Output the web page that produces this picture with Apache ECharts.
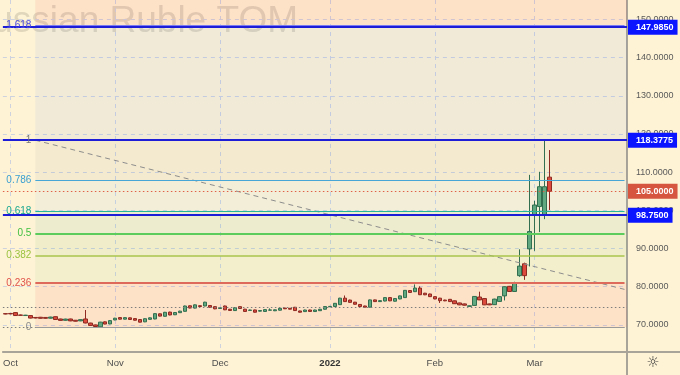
<!DOCTYPE html>
<html>
<head>
<meta charset="utf-8">
<script src="https://cdn.jsdelivr.net/npm/echarts@6/dist/echarts.min.js"></script>
<style>
html,body{margin:0;padding:0;background:#fef3d5;}
#c{width:680px;height:375px;}
</style>
</head>
<body>
<div id="c"></div>
<script>
// ---- categories (trading days) ----
const dates = [
 '2021-09-30',
 '2021-10-01','2021-10-04','2021-10-05','2021-10-06','2021-10-07','2021-10-08','2021-10-11','2021-10-12','2021-10-13','2021-10-14',
 '2021-10-15','2021-10-18','2021-10-19','2021-10-20','2021-10-21','2021-10-22','2021-10-25','2021-10-26','2021-10-27','2021-10-28','2021-10-29',
 '2021-11-01','2021-11-02','2021-11-03','2021-11-05','2021-11-08','2021-11-09','2021-11-10','2021-11-11','2021-11-12','2021-11-15',
 '2021-11-16','2021-11-17','2021-11-18','2021-11-19','2021-11-22','2021-11-23','2021-11-24','2021-11-25','2021-11-26','2021-11-29','2021-11-30',
 '2021-12-01','2021-12-02','2021-12-03','2021-12-06','2021-12-07','2021-12-08','2021-12-09','2021-12-10','2021-12-13','2021-12-14','2021-12-15',
 '2021-12-16','2021-12-17','2021-12-20','2021-12-21','2021-12-22','2021-12-23','2021-12-24','2021-12-27','2021-12-28','2021-12-29','2021-12-30',
 '2022-01-03','2022-01-04','2022-01-05','2022-01-06','2022-01-07','2022-01-10','2022-01-11','2022-01-12','2022-01-13','2022-01-14','2022-01-17',
 '2022-01-18','2022-01-19','2022-01-20','2022-01-21','2022-01-24','2022-01-25','2022-01-26','2022-01-27','2022-01-28','2022-01-31',
 '2022-02-01','2022-02-02','2022-02-03','2022-02-04','2022-02-07','2022-02-08','2022-02-09','2022-02-10','2022-02-11','2022-02-14',
 '2022-02-15','2022-02-16','2022-02-17','2022-02-18','2022-02-21','2022-02-22','2022-02-23','2022-02-24','2022-02-25','2022-02-28',
 '2022-03-01','2022-03-02','2022-03-03','2022-03-04','2022-03-07','2022-03-08','2022-03-09','2022-03-10','2022-03-11','2022-03-14',
 '2022-03-15','2022-03-16','2022-03-17','2022-03-18','2022-03-21','2022-03-22','2022-03-23','2022-03-24','2022-03-25'
];

// ---- OHLC values ----
const opens = [
 72.95,73.00,73.22,72.60,72.45,72.44,71.95,72.00,71.95,71.75,
 72.15,71.55,71.20,71.55,71.22,71.05,71.55,70.48,70.00,69.50,
 70.80,70.25,71.30,71.92,71.50,71.85,71.65,71.40,70.80,71.45,
 71.55,72.90,72.25,73.35,72.65,73.20,73.55,75.00,74.40,75.02,
 74.95,75.08,74.78,74.30,74.95,74.10,73.75,74.78,74.12,73.80,
 73.92,73.60,73.52,73.85,73.70,73.85,74.40,74.35,74.62,73.65,
 73.48,73.90,73.50,73.72,74.10,74.75,74.80,75.30,77.00,76.50,
 75.95,75.35,74.95,74.65,76.55,76.10,76.25,77.15,76.20,76.80,
 77.15,79.00,78.70,79.65,78.30,78.10,77.40,77.00,76.50,76.70,
 76.30,75.75,75.50,74.85,75.10,77.30,76.90,75.50,75.30,76.15,
 77.60,80.10,78.75,82.90,86.00,89.90,98.80,101.00,98.80,108.70
];
const closes = [
 72.85,72.88,72.45,72.50,72.55,71.78,71.80,71.72,71.72,72.05,
 71.42,71.18,71.52,71.05,70.96,71.38,70.50,69.85,69.58,70.72,
 70.22,71.12,71.75,71.50,71.90,71.42,71.22,70.72,71.62,71.85,
 72.95,72.30,73.30,72.60,73.25,73.60,74.95,74.42,75.25,74.82,
 75.95,74.62,74.20,74.48,73.95,73.78,74.50,74.30,73.52,73.90,
 73.32,73.75,74.00,73.92,73.95,74.35,74.22,74.12,73.75,73.32,
 73.90,73.52,73.90,74.10,74.80,74.85,75.65,77.00,76.10,75.90,
 75.40,74.80,74.65,76.55,76.10,76.35,77.15,76.30,76.90,77.60,
 79.05,78.50,79.65,77.90,77.88,77.40,76.80,76.35,76.30,76.10,
 75.55,75.25,75.15,75.00,77.45,76.55,75.25,75.25,76.75,77.40,
 80.00,78.75,81.00,85.40,82.90,94.45,101.40,106.20,106.20,105.00
];
const lows = [
 72.78,72.80,72.40,72.40,72.38,71.70,71.72,71.65,71.62,71.68,
 71.36,71.10,71.12,70.98,70.90,70.98,70.42,69.78,69.48,69.48,
 70.15,70.18,71.22,71.42,71.45,71.36,71.15,70.65,70.72,71.38,
 71.48,72.22,72.18,72.52,72.58,73.12,73.48,74.35,74.32,74.72,
 74.88,74.55,74.12,74.22,73.88,73.70,73.68,74.22,73.45,73.72,
 73.25,73.52,73.45,73.78,73.62,73.78,74.15,74.05,73.68,73.25,
 73.42,73.45,73.45,73.65,74.02,74.68,74.72,75.22,76.02,75.82,
 75.32,74.72,74.58,74.58,76.02,76.02,76.18,76.22,76.12,76.72,
 77.08,78.42,78.62,77.82,77.80,77.32,76.72,75.75,76.22,76.02,
 75.48,75.18,75.08,74.72,75.02,76.48,75.18,75.18,75.22,76.08,
 76.40,78.65,78.62,82.60,81.80,85.30,89.40,94.30,97.70,100.10
];
const highs = [
 73.05,73.10,73.30,72.70,72.62,72.52,72.05,72.08,72.02,72.12,
 72.20,71.62,71.60,71.62,71.28,71.45,73.90,70.55,70.08,70.80,
 70.90,71.20,71.85,72.00,71.98,71.92,71.72,71.48,71.70,71.95,
 73.05,72.98,73.40,73.45,73.35,73.70,75.05,75.10,75.35,75.12,
 76.05,75.18,74.88,74.60,75.05,74.18,74.58,74.88,74.20,74.00,
 74.00,73.82,74.08,74.32,74.02,74.42,74.48,74.42,74.70,73.72,
 73.98,73.98,73.98,74.18,74.88,74.95,75.72,77.10,77.70,76.60,
 76.02,75.42,75.02,76.65,76.62,76.42,77.22,77.22,76.98,77.68,
 79.12,79.08,80.60,80.10,78.38,78.18,77.48,77.08,76.58,76.78,
 76.38,75.82,75.58,75.10,77.55,78.70,77.00,75.58,76.85,77.48,
 80.10,80.20,81.30,89.80,86.30,109.30,102.50,110.10,118.3775,115.80
];

// ---- axis ticks ----
const monthTickDates = ['2021-10-01','2021-11-01','2021-12-01','2022-01-03','2022-02-01','2022-03-01'];
const monthTickLabels = ['Oct','Nov','Dec','2022','Feb','Mar'];
const priceTicks = [70,80,90,100,110,120,130,140,150];
const yMin = 62.9, yMax = 155.1;

// ---- drawings ----
const fibLow = 69.48, fibHigh = 118.3775;
const fibStartDate = '2021-10-08';
const fibRatios = [0, 0.236, 0.382, 0.5, 0.618, 0.786, 1, 1.618, 2.618];
const fibLabels = ['0','0.236','0.382','0.5','0.618','0.786','1','1.618'];
const horizontalLevels = [147.985, 118.3775, 98.75];
const lastPrice = 105.0;
const dottedLevels = [74.7, 69.45];
const trendFrom = ['2021-10-08', 118.3775];
const trendTo = ['2022-03-25', 79.3];
const watermark = 'Russian Ruble TOM';

// ---- styles ----
const fibLineColors = ['#9a9a9a','#de6a5c','#a9c64c','#5ccc5c','#22b59a','#46a6d6','#8a8a8a','#7a7af2'];
const fibLineWidths = [1, 2, 1.5, 2, 1.2, 1.2, 1, 1];
const fibLabelColors = ['#8a8a8a','#e0524a','#9ac23e','#3fbf3f','#1aa890','#3a9fd0','#777777','#4a4adf'];
const fibFillColors = ['rgba(242,54,69,0.09)','rgba(129,199,132,0.09)','rgba(76,175,80,0.08)','rgba(8,153,129,0.07)',
                       'rgba(100,181,246,0.08)','rgba(120,123,134,0.07)','rgba(41,98,255,0.06)','rgba(242,54,69,0.09)'];
const FONT = 'Liberation Sans';

const candleData = opens.map((o, i) => [o, closes[i], lows[i], highs[i]]);
const fibStartIdx = dates.indexOf(fibStartDate);
const lastIdx = dates.length - 1;
const fibPrices = fibRatios.map(r => fibLow + r * (fibHigh - fibLow));

const fibAreas = [];
for (let i = 0; i < fibPrices.length - 1; i++) {
  fibAreas.push([
    { xAxis: fibStartIdx, yAxis: fibPrices[i], itemStyle: { color: fibFillColors[i] } },
    { yAxis: Math.min(fibPrices[i + 1], yMax) }
  ]);
}

const lineMarks = [];
dottedLevels.forEach(v => lineMarks.push({
  yAxis: v, lineStyle: { color: '#7d7d7d', type: [1.5, 2.5], width: 1 }, label: { show: false }
}));
lineMarks.push([
  { coord: [dates.indexOf(trendFrom[0]), trendFrom[1]], lineStyle: { color: '#8d8d8d', type: [5, 4], width: 1 }, label: { show: false } },
  { coord: [dates.indexOf(trendTo[0]), trendTo[1]] }
]);
for (let i = 0; i < fibLabels.length; i++) {
  lineMarks.push([
    { coord: [fibStartIdx, fibPrices[i]],
      lineStyle: { color: fibLineColors[i], width: fibLineWidths[i], type: 'solid' },
      label: { show: true, position: 'start', distance: 4, formatter: fibLabels[i],
               color: fibLabelColors[i], fontSize: 10, fontFamily: FONT } },
    { coord: [lastIdx, fibPrices[i]] }
  ]);
}
lineMarks.push({
  yAxis: lastPrice, lineStyle: { color: '#e0604a', type: [1.5, 2.5], width: 1 },
  label: { show: true, position: 'end', distance: 1, formatter: lastPrice.toFixed(4),
           backgroundColor: '#d5553f', color: '#fff', fontSize: 9, fontWeight: 'bold', fontFamily: FONT,
           padding: [3, 4, 2, 8], lineHeight: 10 }
});
horizontalLevels.forEach(v => lineMarks.push({
  yAxis: v, lineStyle: { color: '#1d1dd8', width: 2, type: 'solid' },
  label: { show: true, position: 'end', distance: 1, formatter: v.toFixed(4),
           backgroundColor: '#0a14ff', color: '#fff', fontSize: 9, fontWeight: 'bold', fontFamily: FONT,
           padding: [3, 4, 2, 8], lineHeight: 10 }
}));

const isMonthTick = (idx) => monthTickDates.indexOf(dates[idx]) >= 0;

const chart = echarts.init(document.getElementById('c'), null, { renderer: 'canvas', width: 680, height: 375 });
chart.setOption({
  animation: false,
  backgroundColor: '#fef3d5',
  grid: { left: 0, right: 53, top: 0, bottom: 23, containLabel: false },
  xAxis: {
    type: 'category',
    data: dates,
    boundaryGap: true,
    axisLine: { show: true, lineStyle: { color: '#a9a49a', width: 2 } },
    axisTick: { show: false },
    axisLabel: {
      interval: (idx) => isMonthTick(idx),
      formatter: (val) => {
        const k = monthTickDates.indexOf(val);
        const t = k >= 0 ? monthTickLabels[k] : '';
        return /^\d{4}$/.test(t) ? '{y|' + t + '}' : t;
      },
      color: '#4d4d4d', fontSize: 9.5, fontFamily: FONT, margin: 6,
      rich: { y: { fontWeight: 'bold', fontSize: 9.5, fontFamily: FONT, color: '#333' } }
    },
    splitLine: { show: true, interval: (idx) => isMonthTick(idx), alignWithLabel: true,
                 lineStyle: { color: '#cdd2de', type: [4, 4], width: 1 } }
  },
  yAxis: {
    type: 'value',
    position: 'right',
    min: yMin, max: yMax,
    axisLine: { show: true, lineStyle: { color: '#a9a49a', width: 2 } },
    axisTick: { show: false, customValues: priceTicks },
    axisLabel: { customValues: priceTicks, formatter: (v) => v.toFixed(4), color: '#5a5a5a',
                 fontSize: 9, fontFamily: FONT, margin: 9 },
    splitLine: { show: true, lineStyle: { color: '#cdd2de', type: [4, 4], width: 1 } }
  },
  graphic: [
    { type: 'text', x: 298, y: 3, z: -10, silent: true,
      style: { text: watermark, align: 'right', verticalAlign: 'top',
               font: '37px "Liberation Sans"', fill: 'rgba(80,70,60,0.17)' } },
    { type: 'line', silent: true, shape: { x1: 627, y1: 352, x2: 680, y2: 352 },
      style: { stroke: '#a9a49a', lineWidth: 2 } },
    { type: 'line', silent: true, shape: { x1: 627, y1: 352, x2: 627, y2: 375 },
      style: { stroke: '#a9a49a', lineWidth: 2 } },
    { type: 'text', x: 653, y: 363, silent: true,
      style: { text: '\u263C', align: 'center', verticalAlign: 'middle',
               font: '15px "DejaVu Sans"', fill: '#3a3a3a' } }
  ],
  series: [
    {
      type: 'line', data: [], z: 1, clip: false, silent: true,
      markArea: { silent: true, data: fibAreas, label: { show: false } }
    },
    {
      type: 'candlestick', name: 'USDRUB_TOM', z: 3,
      data: candleData,
      barWidth: 4,
      itemStyle: { color: '#5fa880', color0: '#db4a3d', borderColor: '#326f50', borderColor0: '#8e2a22', borderWidth: 1 }
    },
    {
      type: 'line', data: [], z: 5, clip: false, silent: true,
      markLine: { silent: true, symbol: ['none', 'none'], data: lineMarks, emphasis: { disabled: true } }
    }
  ]
});
</script>
</body>
</html>
